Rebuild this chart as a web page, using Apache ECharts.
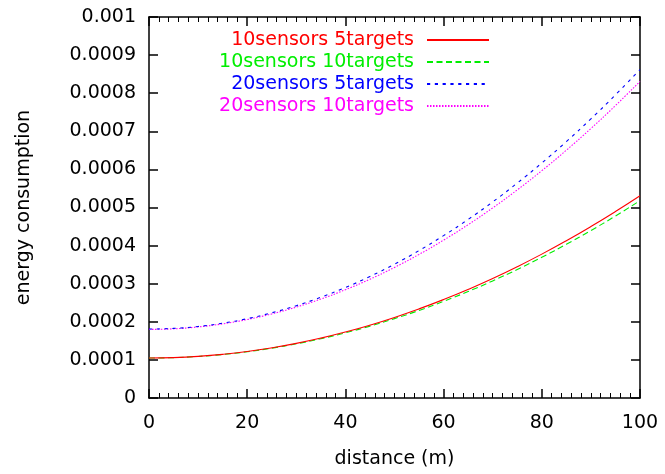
<!DOCTYPE html>
<html>
<head>
<meta charset="utf-8">
<script src="https://cdn.jsdelivr.net/npm/echarts@6/dist/echarts.min.js"></script>
<style>html,body{margin:0;padding:0;background:#fff}#c{width:665px;height:474px}</style>
</head>
<body>
<div id="c"></div>
<script>
var distance = [0,5,10,15,20,25,30,35,40,45,50,55,60,65,70,75,80,85,90,95,100];
var s10t5  = [1.050,1.061,1.093,1.146,1.220,1.316,1.433,1.572,1.732,1.913,2.115,2.339,2.584,2.850,3.137,3.446,3.776,4.128,4.501,4.895,5.310];
var s10t10 = [1.050,1.060,1.091,1.143,1.215,1.308,1.422,1.556,1.711,1.886,2.083,2.299,2.537,2.795,3.074,3.373,3.693,4.034,4.395,4.777,5.180];
var s20t5  = [1.810,1.827,1.878,1.963,2.082,2.236,2.423,2.644,2.900,3.189,3.513,3.870,4.262,4.687,5.147,5.641,6.168,6.730,7.326,7.956,8.620];
var s20t10 = [1.800,1.816,1.865,1.946,2.060,2.207,2.386,2.597,2.842,3.118,3.428,3.769,4.144,4.550,4.990,5.462,5.966,6.504,7.073,7.675,8.310];
var scale = 1e-4;
var names = ['10sensors 5targets','10sensors 10targets','20sensors 5targets','20sensors 10targets'];
var colors = ['#ff0000','#00ee00','#0000ff','#ff00ff'];
var dashes = ['solid',[6,3.5],[3.2,4.6],[1.5,1.5]];
var values = [s10t5, s10t10, s20t5, s20t10];

function pairs(arr){ return distance.map(function(d,i){ return [d, arr[i]*scale]; }); }

var FONT = 'DejaVu Sans';
var axisLine = {show:true, onZero:false, lineStyle:{color:'#000', width:1.5}};
var chart = echarts.init(document.getElementById('c'));
chart.setOption({
  animation:false,
  backgroundColor:'#fff',
  textStyle:{fontFamily:FONT},
  grid:{left:149, right:25, top:17, bottom:74},
  legend:{
    orient:'vertical', right:170, top:25, align:'right',
    itemWidth:62, itemHeight:14, itemGap:2,
    itemStyle:{opacity:0, borderWidth:0},
    textStyle:{fontFamily:FONT, fontSize:19, lineHeight:20, padding:[0,8,0,0]},
    data: names.map(function(n,i){ return {name:n, textStyle:{color:colors[i]}}; })
  },
  xAxis:[{
    type:'value', min:0, max:100, interval:20, position:'bottom',
    name:'distance (m)', nameLocation:'middle', nameGap:52,
    nameTextStyle:{fontFamily:FONT, fontSize:19, color:'#000'},
    axisLine:axisLine,
    axisTick:{show:true, inside:true, length:9, lineStyle:{color:'#000', width:1.5}},
    minorTick:{show:true, splitNumber:10, length:5, lineStyle:{color:'#000', width:1}},
    axisLabel:{fontFamily:FONT, fontSize:19, color:'#000', margin:16},
    splitLine:{show:false}
  },{
    type:'value', min:0, max:100, interval:20, position:'top',
    axisLine:axisLine,
    axisTick:{show:true, inside:true, length:9, lineStyle:{color:'#000', width:1.5}},
    minorTick:{show:true, splitNumber:10, length:5, lineStyle:{color:'#000', width:1}},
    axisLabel:{show:false}, splitLine:{show:false}
  }],
  yAxis:[{
    type:'value', min:0, max:0.001, interval:0.0001, position:'left',
    name:'energy consumption', nameLocation:'middle', nameGap:115, nameRotate:90,
    nameTextStyle:{fontFamily:FONT, fontSize:19, color:'#000'},
    axisLine:axisLine,
    axisTick:{show:true, inside:true, length:9, lineStyle:{color:'#000', width:1.5}},
    axisLabel:{fontFamily:FONT, fontSize:19, color:'#000', margin:13,
      formatter:function(v){ return String(+v.toFixed(4)); }},
    splitLine:{show:false}
  },{
    type:'value', min:0, max:0.001, interval:0.0001, position:'right',
    axisLine:axisLine,
    axisTick:{show:true, inside:true, length:9, lineStyle:{color:'#000', width:1.5}},
    axisLabel:{show:false}, splitLine:{show:false}
  }],
  series: names.map(function(n,i){
    return {
      name:n, type:'line', xAxisIndex:0, yAxisIndex:0,
      data:pairs(values[i]), smooth:true, symbol:'none', showSymbol:false,
      lineStyle:{color:colors[i], width:1.1, type:dashes[i]},
      itemStyle:{color:colors[i]},
      z: 10-i
    };
  })
});
</script>
</body>
</html>
